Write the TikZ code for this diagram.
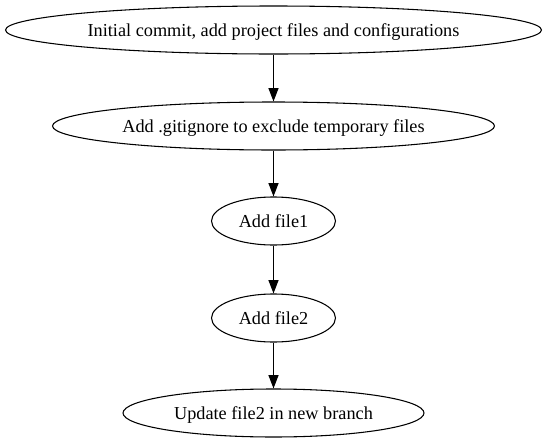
\documentclass[tikz,border=0pt]{standalone}
\usepackage{fontspec}
\setmainfont{Liberation Serif}
\usetikzlibrary{shapes.geometric,arrows.meta}

\begin{document}
\begin{tikzpicture}[x=0.75pt,y=-0.75pt,
  commit/.style={draw, ellipse, line width=0.8pt, inner sep=0pt, minimum height=36pt,
    text depth=0.5pt, font=\fontsize{13.7pt}{16pt}\selectfont},
  link/.style={line width=0.8pt, -{Triangle[length=10pt,width=7.5pt]}}]
\useasboundingbox (0,0) rectangle (547,443);
\node[commit, minimum width=402pt] (init) at (273.5,30) {Initial commit, add project files and configurations};
\node[commit, minimum width=331.5pt] (ignore) at (273.5,126) {Add .gitignore to exclude temporary files};
\node[commit, minimum width=93pt] (file1) at (273.5,221) {Add file1};
\node[commit, minimum width=93pt] (file2) at (273.5,318) {Add file2};
\node[commit, minimum width=225.75pt] (branch) at (273.5,413) {Update file2 in new branch};
\draw[link] (init) -- (ignore);
\draw[link] (ignore) -- (file1);
\draw[link] (file1) -- (file2);
\draw[link] (file2) -- (branch);
\end{tikzpicture}
\end{document}
